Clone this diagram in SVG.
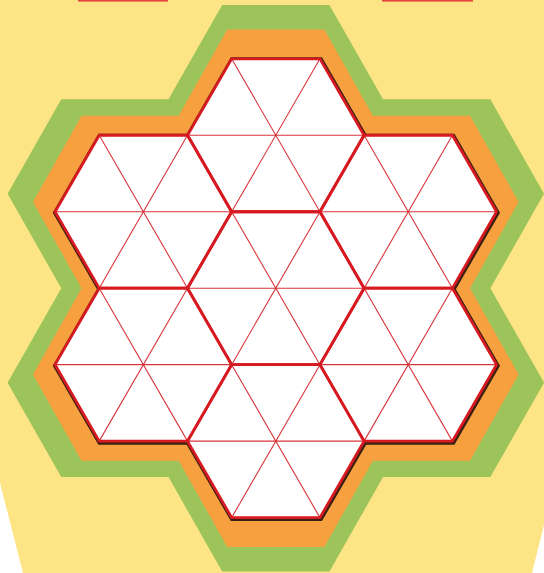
<svg xmlns="http://www.w3.org/2000/svg" xmlns:xlink="http://www.w3.org/1999/xlink" width="544" height="573" viewBox="0 0 544 573">
<style>
.hex{fill:#ffffff;stroke:#d71a21;stroke-width:2.8;stroke-linejoin:miter}
.spoke{stroke:#d9363c;stroke-width:1.1;fill:none}
</style>
<defs>
<path id="flower" d="M231.65,58.79 L319.95,58.79 L364.1,135.26 L452.4,135.26 L496.55,211.73 L452.4,288.2 L496.55,364.67 L452.4,441.14 L364.1,441.14 L319.95,517.61 L231.65,517.61 L187.5,441.14 L99.2,441.14 L55.05,364.67 L99.2,288.2 L55.05,211.73 L99.2,135.26 L187.5,135.26 Z"/>
</defs>
<rect x="0" y="0" width="544" height="573" fill="#fde586"/>
<polygon points="0,483 23,573 0,573" fill="#ffffff"/>
<polygon points="544,525 532,573 544,573" fill="#ffffff"/>
<rect x="78" y="0" width="90" height="1.6" fill="#e8443b"/>
<rect x="382" y="0" width="91" height="1.6" fill="#e8443b"/>
<g id="bands">
<use xlink:href="#flower" href="#flower" fill="#9dc45b" transform="translate(275.8,288.2) scale(1.215,1.235) translate(-275.8,-288.2)"/>
<use xlink:href="#flower" href="#flower" fill="#f6a040" transform="translate(275.8,288.2) scale(1.10,1.128) translate(-275.8,-288.2)"/>
<use xlink:href="#flower" href="#flower" fill="none" stroke="#3a2010" stroke-width="5" stroke-linejoin="miter" transform="translate(0.6,1)"/>
<use xlink:href="#flower" href="#flower" fill="#ffffff"/>
</g>
<g id="spokes">
<path class="spoke" d="M187.5,135.26 L364.1,135.26 M231.65,58.79 L319.95,211.73 M319.95,58.79 L231.65,211.73"/>
<path class="spoke" d="M55.05,211.73 L231.65,211.73 M99.2,135.26 L187.5,288.2 M187.5,135.26 L99.2,288.2"/>
<path class="spoke" d="M319.95,211.73 L496.55,211.73 M364.1,135.26 L452.4,288.2 M452.4,135.26 L364.1,288.2"/>
<path class="spoke" d="M187.5,288.2 L364.1,288.2 M231.65,211.73 L319.95,364.67 M319.95,211.73 L231.65,364.67"/>
<path class="spoke" d="M55.05,364.67 L231.65,364.67 M99.2,288.2 L187.5,441.14 M187.5,288.2 L99.2,441.14"/>
<path class="spoke" d="M319.95,364.67 L496.55,364.67 M364.1,288.2 L452.4,441.14 M452.4,288.2 L364.1,441.14"/>
<path class="spoke" d="M187.5,441.14 L364.1,441.14 M231.65,364.67 L319.95,517.61 M319.95,364.67 L231.65,517.61"/>
</g>
<g id="hex-top"><polygon class="hex" fill="none" style="fill:none" points="187.5,135.26 231.65,58.79 319.95,58.79 364.1,135.26 319.95,211.73 231.65,211.73"/></g>
<g id="hex-upper-left"><polygon class="hex" style="fill:none" points="55.05,211.73 99.2,135.26 187.5,135.26 231.65,211.73 187.5,288.2 99.2,288.2"/></g>
<g id="hex-upper-right"><polygon class="hex" style="fill:none" points="319.95,211.73 364.1,135.26 452.4,135.26 496.55,211.73 452.4,288.2 364.1,288.2"/></g>
<g id="hex-center"><polygon class="hex" style="fill:none" points="187.5,288.2 231.65,211.73 319.95,211.73 364.1,288.2 319.95,364.67 231.65,364.67"/></g>
<g id="hex-lower-left"><polygon class="hex" style="fill:none" points="55.05,364.67 99.2,288.2 187.5,288.2 231.65,364.67 187.5,441.14 99.2,441.14"/></g>
<g id="hex-lower-right"><polygon class="hex" style="fill:none" points="319.95,364.67 364.1,288.2 452.4,288.2 496.55,364.67 452.4,441.14 364.1,441.14"/></g>
<g id="hex-bottom"><polygon class="hex" style="fill:none" points="187.5,441.14 231.65,364.67 319.95,364.67 364.1,441.14 319.95,517.61 231.65,517.61"/></g>
</svg>
